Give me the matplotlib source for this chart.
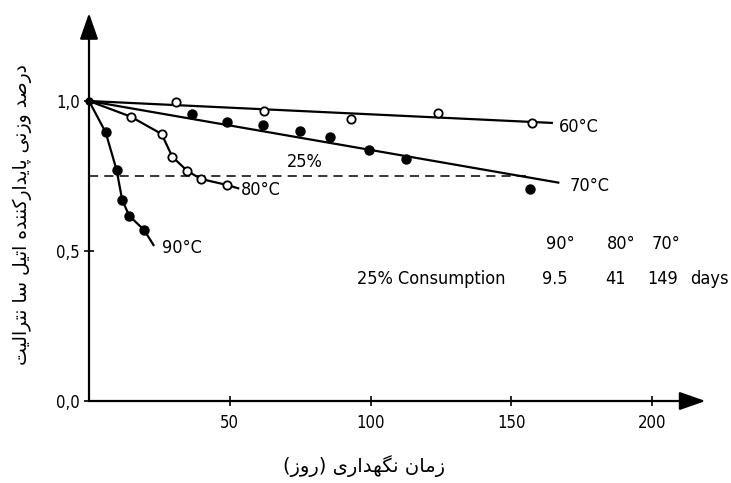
import matplotlib
matplotlib.use('Agg')
import matplotlib.pyplot as plt

# storage time (days) vs. stabilizer content, one series per temperature
x60 = [30.8, 62.2, 93.1, 124.1, 157.5]
y60 = [0.996, 0.967, 0.940, 0.959, 0.928]
fit60_x = [0, 164.4]
fit60_y = [1.0, 0.927]

x70 = [36.5, 49.1, 61.7, 75.0, 85.6, 99.5, 112.5, 156.7]
y70 = [0.957, 0.929, 0.920, 0.900, 0.880, 0.837, 0.806, 0.706]
fit70_x = [0, 166.7]
fit70_y = [1.0, 0.728]

x80 = [14.8, 25.8, 29.6, 34.9, 39.8, 49.1]
y80 = [0.948, 0.890, 0.814, 0.767, 0.740, 0.720]
fit80_x = [0, 14.8, 25.8, 29.6, 34.9, 39.8, 49.1, 53.0]
fit80_y = [1.0, 0.948, 0.890, 0.814, 0.767, 0.740, 0.720, 0.709]

x90 = [5.9, 9.8, 11.8, 14.3, 19.6]
y90 = [0.896, 0.770, 0.670, 0.617, 0.570]
fit90_x = [0, 5.9, 9.8, 11.8, 14.3, 19.6, 22.9]
fit90_y = [1.0, 0.896, 0.770, 0.670, 0.617, 0.570, 0.520]

limit_y = 0.75
limit_x = [0, 156]

temps = ['90°', '80°', '70°']
days_25 = ['9.5', '41', '149']

xticks = [50, 100, 150, 200]
yticks = [0.0, 0.5, 1.0]
ytick_labels = ['0,0', '0,5', '1,0']

ylabel = 'درصد وزنی پایدارکننده اتیل سا نترالیت'
xlabel = 'زمان نگهداری (روز)'

# contextual forms for the letters used (isolated, final, initial, medial)
FORMS = {
    'ا': ('\ufe8d', '\ufe8e'),
    'د': ('\ufea9', '\ufeaa'),
    'ر': ('\ufead', '\ufeae'),
    'ز': ('\ufeaf', '\ufeb0'),
    'و': ('\ufeed', '\ufeee'),
    'ت': ('\ufe95', '\ufe96', '\ufe97', '\ufe98'),
    'س': ('\ufeb1', '\ufeb2', '\ufeb3', '\ufeb4'),
    'ص': ('\ufeb9', '\ufeba', '\ufebb', '\ufebc'),
    'ل': ('\ufedd', '\ufede', '\ufedf', '\ufee0'),
    'م': ('\ufee1', '\ufee2', '\ufee3', '\ufee4'),
    'ن': ('\ufee5', '\ufee6', '\ufee7', '\ufee8'),
    'ه': ('\ufee9', '\ufeea', '\ufeeb', '\ufeec'),
    'پ': ('\ufb56', '\ufb57', '\ufb58', '\ufb59'),
    'ک': ('\ufb8e', '\ufb8f', '\ufb90', '\ufb91'),
    'گ': ('\ufb92', '\ufb93', '\ufb94', '\ufb95'),
    'ی': ('\ufbfc', '\ufbfd', '\ufbfe', '\ufbff'),
}


def shape(text):
    out = []
    for i, ch in enumerate(text):
        if ch not in FORMS:
            out.append(ch)
            continue
        f = FORMS[ch]
        prev = text[i - 1] if i > 0 else ''
        nxt = text[i + 1] if i + 1 < len(text) else ''
        join_prev = prev in FORMS and len(FORMS[prev]) == 4
        join_next = len(f) == 4 and nxt in FORMS
        if join_prev and join_next:
            out.append(f[3])
        elif join_prev:
            out.append(f[1])
        elif join_next:
            out.append(f[2])
        else:
            out.append(f[0])
    vis = ''.join(reversed(out))
    return vis.translate(str.maketrans('()', ')('))


fig = plt.figure(figsize=(7.31, 4.83), dpi=100)
ax = fig.add_axes([89 / 731, 82 / 483, 222 * 2.815 / 731, 390 / 483])
ax.set_xlim(0, 222)
ax.set_ylim(0, 1.3)
for s in ax.spines.values():
    s.set_visible(False)

lw = 1.6
fnt = dict(family='DejaVu Sans', stretch='condensed', size=13)
tick_fnt = dict(family='DejaVu Sans', stretch='condensed', size=12)

# axes with arrow heads
arrow = dict(arrowstyle='-|>,head_length=0.8,head_width=0.28', lw=1.6,
             color='k', mutation_scale=20, shrinkA=0, shrinkB=0)
ax.annotate('', xy=(219, 0), xytext=(0, 0), arrowprops=arrow, annotation_clip=False)
ax.annotate('', xy=(0, 1.293), xytext=(0, 0), arrowprops=arrow, annotation_clip=False)

ax.plot(fit60_x, fit60_y, color='k', lw=lw, zorder=2)
ax.plot(fit70_x, fit70_y, color='k', lw=lw, zorder=2)
ax.plot(fit80_x, fit80_y, color='k', lw=lw, zorder=2)
ax.plot(fit90_x, fit90_y, color='k', lw=lw, zorder=2)

ax.plot(x60, y60, 'o', ms=6, mfc='white', mec='k', mew=1.3, zorder=3)
ax.plot(x80, y80, 'o', ms=6, mfc='white', mec='k', mew=1.3, zorder=3)
ax.plot(x70, y70, 'o', ms=6.5, color='k', zorder=3)
ax.plot(x90, y90, 'o', ms=6.5, color='k', zorder=3)
ax.plot([0], [1.0], 'o', ms=5, color='k', zorder=3, clip_on=False)

ax.plot(limit_x, [limit_y, limit_y], color='k', lw=1.1, ls=(0, (6, 4)), zorder=1)

ax.text(76.7, 0.797, '25%', ha='center', va='center', **fnt)
ax.text(167.0, 0.913, '60°C', ha='left', va='center', **fnt)
ax.text(170.8, 0.717, '70°C', ha='left', va='center', **fnt)
ax.text(54.0, 0.703, '80°C', ha='left', va='center', **fnt)
ax.text(25.8, 0.510, '90°C', ha='left', va='center', **fnt)

# 25% consumption summary
for xc, t in zip([167.3, 189.0, 205.0], temps):
    ax.text(xc, 0.523, t, ha='center', va='center', **fnt)
ax.text(95.2, 0.407, '25% Consumption', ha='left', va='center', **fnt)
for xc, d in zip([165.5, 186.9, 203.9], days_25):
    ax.text(xc, 0.407, d, ha='center', va='center', **fnt)
ax.text(213.4, 0.407, 'days', ha='left', va='center', **fnt)

ax.set_xticks(xticks)
ax.set_xticklabels([str(t) for t in xticks], **tick_fnt)
ax.set_yticks(yticks)
ax.set_yticklabels(ytick_labels, **tick_fnt)
ax.tick_params(axis='both', direction='inout', length=7, width=1.2, pad=3)
ax.tick_params(axis='x', pad=6)

fig.text(22 / 731, 1 - 215 / 483, shape(ylabel), rotation=90, ha='center',
         va='center', family='DejaVu Sans', size=13.5)
fig.text(364 / 731, 1 - 466 / 483, shape(xlabel), ha='center', va='center',
         family='DejaVu Sans', size=14)

fig.savefig('out.png', dpi=100)
